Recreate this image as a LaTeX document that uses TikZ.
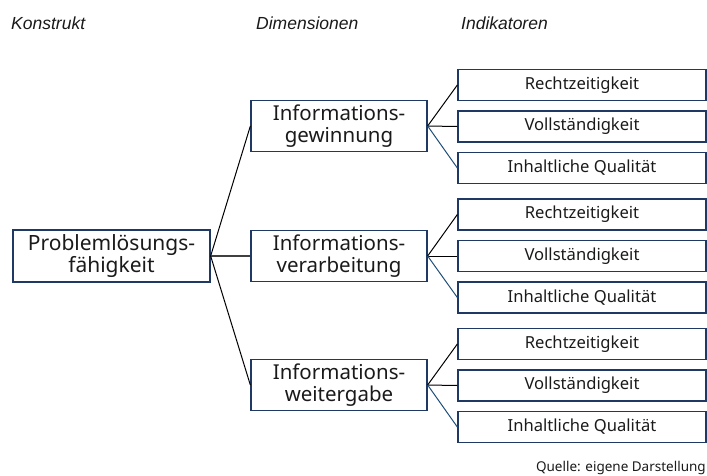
\documentclass[tikz,border=0pt]{standalone}
\usepackage{fontspec}
\setmainfont{Noto Sans}
\newfontfamily\headfont{Liberation Sans}
\usetikzlibrary{positioning}

\definecolor{boxline}{HTML}{1F3864}
\definecolor{blueline}{HTML}{1F4E79}
\definecolor{midline}{HTML}{404040}
\definecolor{txt}{HTML}{1A1A1A}

\begin{document}
\begin{tikzpicture}[x=1pt,y=-1pt,
        konstrukt/.style={draw=boxline,line width=1.3pt,minimum width=197pt,minimum height=52pt,
            inner sep=0pt,align=center,text=txt,font=\fontsize{21}{22}\selectfont},
        dimension/.style={draw=boxline,line width=1.3pt,minimum width=176pt,minimum height=51pt,
            inner sep=0pt,align=center,text=txt,font=\fontsize{20.5}{22}\selectfont},
        indikator/.style={draw=boxline,line width=1.3pt,minimum width=248pt,minimum height=31pt,
            inner sep=0pt,text=txt,font=\fontsize{16.6}{18}\selectfont},
        header/.style={anchor=base west,inner sep=0pt,text=txt,font=\headfont\itshape\fontsize{17.5}{20}\selectfont},
        ast/.style={line width=1pt}]
    \useasboundingbox (0,0) rectangle (707,475);

    % Spaltenkoepfe
    \node[header] (hkon) at (11,29.5) {Konstrukt};
    \node[header] (hdim) at (256,29.5) {Dimensionen};
    \node[header] (hind) at (461,29.5) {Indikatoren};

    % Konstrukt
    \node[konstrukt] (prob) at (111.5,256) {Problemlösungs-\\fähigkeit};

    % Dimensionen
    \foreach \n/\y/\t in {1/126/gewinnung,2/256/verarbeitung,3/385/weitergabe}
        \node[dimension] (dim\n) at (339,\y) {Informations-\\\t};

    % Indikatoren
    \foreach \n/\y in {1/85,2/214.5,3/344}
    {
        \node[indikator] (ind\n a) at (582,\y) {Rechtzeitigkeit};
        \node[indikator] (ind\n b) at (582,\y+41.5) {Vollständigkeit};
        \node[indikator] (ind\n c) at (582,\y+83) {Inhaltliche Qualität};
    }

    % Verbindungen
    \draw[ast,black] (prob.east) -- (dim1.west);
    \draw[ast,midline,line width=1.6pt] (prob.east) -- (dim2.west);
    \draw[ast,black] (prob.east) -- (dim3.west);
    \foreach \n in {1,2,3}
    {
        \draw[ast,black] (dim\n.east) -- (ind\n a.west);
        \draw[ast,black] (dim\n.east) -- (ind\n b.west);
        \draw[ast,blueline] (dim\n.east) -- (ind\n c.west);
    }

    \node[anchor=base east,inner sep=0pt,text=txt,font=\fontsize{13.5}{15}\selectfont] (quelle) at (706,471)
        {Quelle: eigene Darstellung};
\end{tikzpicture}
\end{document}
